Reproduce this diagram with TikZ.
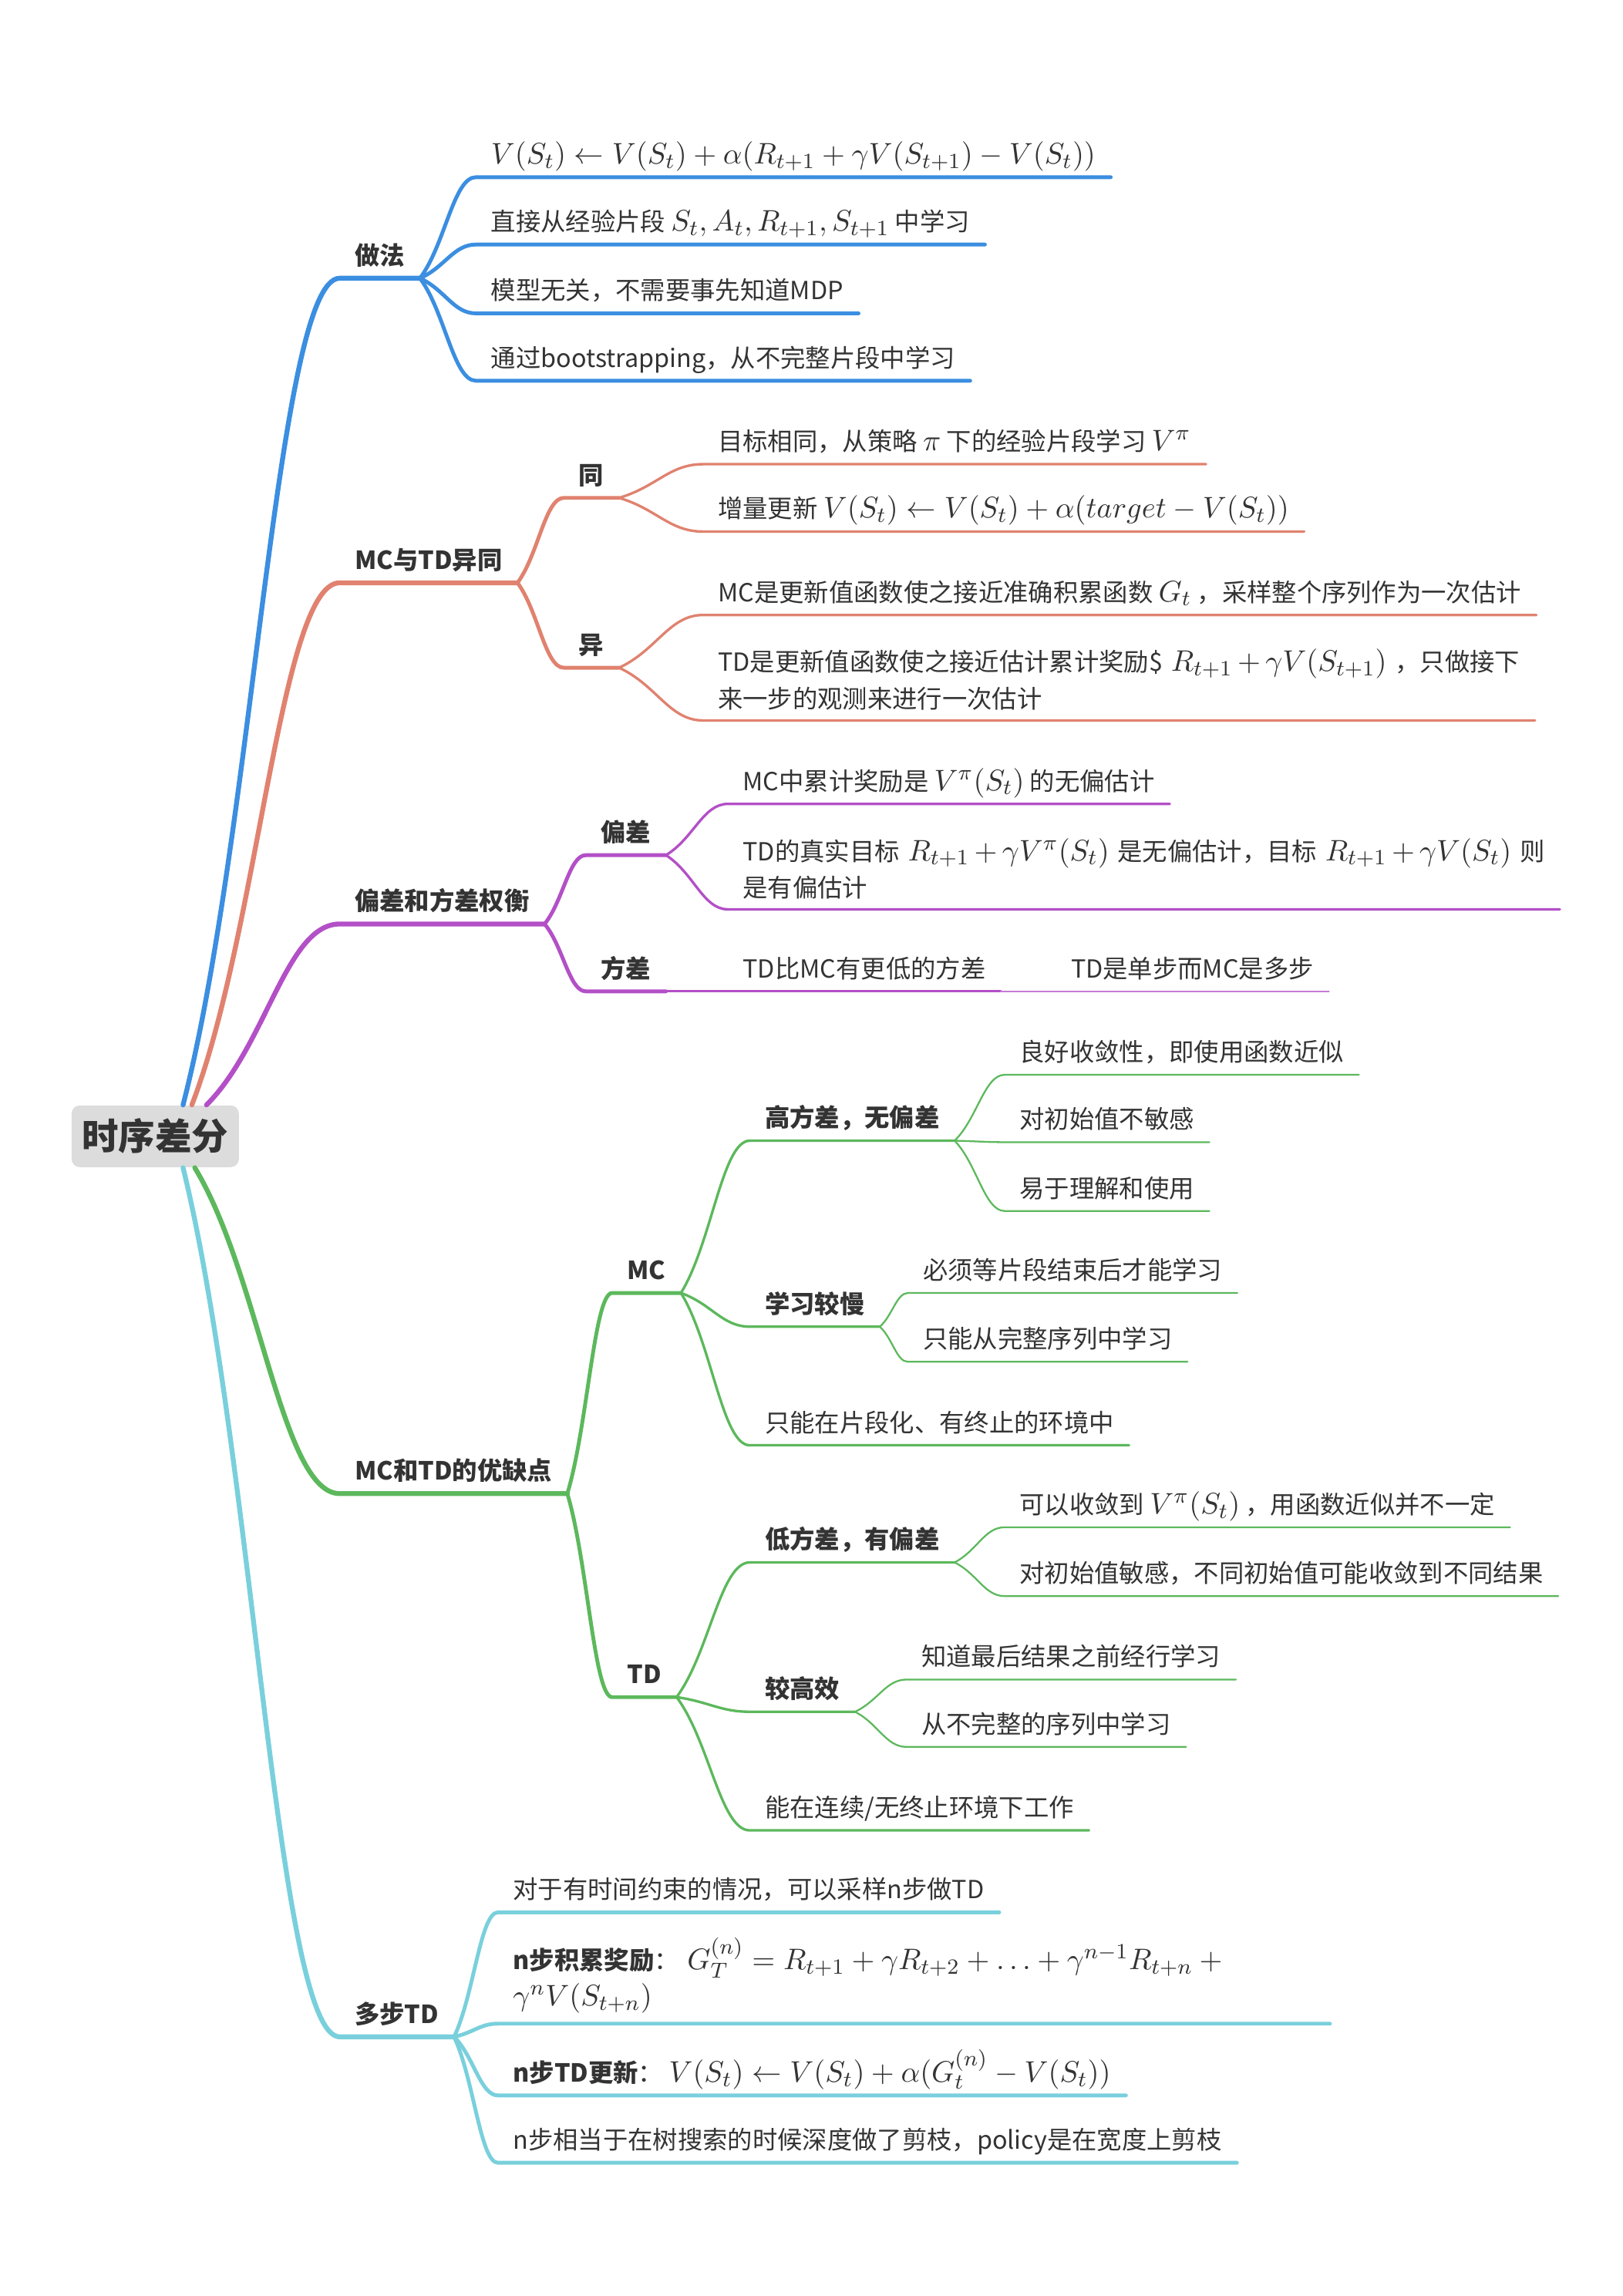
\documentclass[tikz,border=0pt]{standalone}
\usepackage{fontspec}
\setmainfont{Noto Sans CJK SC}
\usetikzlibrary{
    calc,       % let ... in for the curved links
    positioning
}

\definecolor{inkgray}{HTML}{333333}
\definecolor{rootgray}{HTML}{DCDCDC}
\definecolor{brblue}{HTML}{3B8EE0}
\definecolor{brsalmon}{HTML}{E0826F}
\definecolor{brpurple}{HTML}{B34FC7}
\definecolor{brgreen}{HTML}{5CB85C}
\definecolor{brcyan}{HTML}{79D0DC}

% formula a bit larger than the text round it
\newcommand{\fm}[1]{{\fontsize{10.8}{13}\selectfont$#1$}}
% curved link from a point to the start of a topic, then its underline
\newcommand{\twig}[3]{%
    \draw[#1] let \p1=(#2), \p2=(#3.south west) in
        (\p1) .. controls ({\x1+0.45*(\x2-\x1)},{\y1+0.33*(\y2-\y1)})
              and ({\x2-0.4*(\x2-\x1)},\y2) .. (\p2) -- (#3.south east);}

\begin{document}
\begin{tikzpicture}[
        x=0.01899cm, y=-0.01899cm,
        line cap=round,
        % Styles
        topic/.style={anchor=south west, inner xsep=0.19cm, inner ysep=3.2pt,
            text depth=1.6pt, text=inkgray, font=\fontsize{9.2}{13.5}\selectfont},
        head/.style={topic, font=\fontsize{9.2}{13.5}\selectfont\bfseries},
        wrapped/.style={topic, text depth={}, inner ysep=3.6pt, text width=10.4cm, align=left},
        rootbox/.style={fill=rootgray, rounded corners=3pt, text=inkgray,
            minimum width=2.17cm, minimum height=0.8cm,
            font=\fontsize{13.5}{16}\selectfont\bfseries},
        lvA/.style={line width=1.8pt},
        lvB/.style={line width=1.4pt},
        lvC/.style={line width=0.95pt},
        lvD/.style={line width=0.65pt}
    ]
    \useasboundingbox (0,0) rectangle (1108,1568);

    % --- Root ---
    \node[rootbox] (root) at (106,776) {时序差分};
    \coordinate (rblue)   at ($(root.north)+(19,0)$);
    \coordinate (rsalmon) at ($(root.north)+(25,0)$);
    \coordinate (rpurple) at ($(root.north)+(35,0)$);
    \coordinate (rgreen)  at ($(root.south)+(27,0)$);
    \coordinate (rcyan)   at ($(root.south)+(19,0)$);

    % --- 1. 做法 ---
    \node[head] (fa) at (232,190) {做法};
    \node[topic] (fa1) at (325,121) {\fm{V(S_t)\leftarrow V(S_t)+\alpha(R_{t+1}+\gamma V(S_{t+1})-V(S_t))}};
    \node[topic] (fa2) at (325,167) {直接从经验片段 \fm{S_t,A_t,R_{t+1},S_{t+1}} 中学习};
    \node[topic] (fa3) at (325,214) {模型无关，不需要事先知道MDP};
    \node[topic] (fa4) at (325,260) {通过bootstrapping，从不完整片段中学习};

    \twig{lvA, brblue}{rblue}{fa}
    \foreach \k in {fa1,fa2,fa3,fa4}
        {\twig{lvB, brblue}{fa.south east}{\k}}

    % --- 2. MC与TD异同 ---
    \node[head] (yt) at (232,398) {MC与TD异同};
    \node[head] (tong) at (385,340) {同};
    \node[head] (yi) at (385,456) {异};
    \node[topic] (tong1) at (480,317) {目标相同，从策略 \fm{\pi} 下的经验片段学习 \fm{V^\pi}};
    \node[topic] (tong2) at (480,363) {增量更新 \fm{V(S_t)\leftarrow V(S_t)+\alpha(target-V(S_t))}};
    \node[topic] (yi1) at (480,420) {MC是更新值函数使之接近准确积累函数 \fm{G_t} ，采样整个序列作为一次估计};
    \node[wrapped] (yi2) at (480,492) {TD是更新值函数使之接近估计累计奖励\$ \fm{R_{t+1}+\gamma V(S_{t+1})} ，只做接下\\来一步的观测来进行一次估计};

    \twig{lvA, brsalmon}{rsalmon}{yt}
    \twig{lvB, brsalmon}{yt.south east}{tong}
    \twig{lvB, brsalmon}{yt.south east}{yi}
    \twig{lvC, brsalmon}{tong.south east}{tong1}
    \twig{lvC, brsalmon}{tong.south east}{tong2}
    \twig{lvC, brsalmon}{yi.south east}{yi1}
    \twig{lvC, brsalmon}{yi.south east}{yi2}

    % --- 3. 偏差和方差权衡 ---
    \node[head] (pc) at (232,631) {偏差和方差权衡};
    \node[head] (pcb) at (400,584) {偏差};
    \node[head] (pcv) at (400,677) {方差};
    \node[topic] (pcb1) at (497,549) {MC中累计奖励是 \fm{V^\pi(S_t)} 的无偏估计};
    \node[wrapped] (pcb2) at (497,621) {TD的真实目标 \fm{R_{t+1}+\gamma V^\pi(S_t)} 是无偏估计，目标 \fm{R_{t+1}+\gamma V(S_t)}~则\\是有偏估计};
    \node[topic] (pcv1) at (497,677) {TD比MC有更低的方差};
    \node[topic] (pcv2) at (721,677) {TD是单步而MC是多步};

    \twig{lvA, brpurple}{rpurple}{pc}
    \twig{lvB, brpurple}{pc.south east}{pcb}
    \twig{lvB, brpurple}{pc.south east}{pcv}
    \twig{lvC, brpurple}{pcb.south east}{pcb1}
    \twig{lvC, brpurple}{pcb.south east}{pcb2}
    \twig{lvC, brpurple}{pcv.south east}{pcv1}
    \twig{lvD, brpurple!75}{pcv1.south east}{pcv2}

    % --- 4. MC和TD的优缺点 ---
    \node[head] (yq) at (232,1020) {MC和TD的优缺点};
    \node[head] (mc) at (418,883) {MC};
    \node[head] (td) at (418,1159) {TD};
    % MC side
    \node[head] (mc1) at (512,779) {高方差，无偏差};
    \node[head] (mc2) at (512,906) {学习较慢};
    \node[topic] (mc3) at (512,987) {只能在片段化、有终止的环境中};
    \node[topic] (mc11) at (686,734) {良好收敛性，即使用函数近似};
    \node[topic] (mc12) at (686,780) {对初始值不敏感};
    \node[topic] (mc13) at (686,827) {易于理解和使用};
    \node[topic] (mc21) at (620,883) {必须等片段结束后才能学习};
    \node[topic] (mc22) at (620,930) {只能从完整序列中学习};
    % TD side
    \node[head] (td1) at (512,1067) {低方差，有偏差};
    \node[head] (td2) at (512,1169) {较高效};
    \node[topic] (td3) at (512,1250) {能在连续/无终止环境下工作};
    \node[topic] (td11) at (686,1043) {可以收敛到 \fm{V^\pi(S_t)} ，用函数近似并不一定};
    \node[topic] (td12) at (686,1090) {对初始值敏感，不同初始值可能收敛到不同结果};
    \node[topic] (td21) at (619,1147) {知道最后结果之前经行学习};
    \node[topic] (td22) at (619,1193) {从不完整的序列中学习};

    \twig{lvA, brgreen}{rgreen}{yq}
    \twig{lvB, brgreen}{yq.south east}{mc}
    \twig{lvB, brgreen}{yq.south east}{td}
    \foreach \k in {mc1,mc2,mc3}
        {\twig{lvC, brgreen}{mc.south east}{\k}}
    \foreach \k in {td1,td2,td3}
        {\twig{lvC, brgreen}{td.south east}{\k}}
    \foreach \k in {mc11,mc12,mc13}
        {\twig{lvD, brgreen}{mc1.south east}{\k}}
    \foreach \k in {mc21,mc22}
        {\twig{lvD, brgreen}{mc2.south east}{\k}}
    \foreach \k in {td11,td12}
        {\twig{lvD, brgreen}{td1.south east}{\k}}
    \foreach \k in {td21,td22}
        {\twig{lvD, brgreen}{td2.south east}{\k}}

    % --- 5. 多步TD ---
    \node[head] (db) at (232,1391) {多步TD};
    \node[topic] (db1) at (340,1306) {对于有时间约束的情况，可以采样n步做TD};
    \node[wrapped] (db2) at (340,1382) {{\bfseries n步积累奖励}： \fm{G_T^{(n)}=R_{t+1}+\gamma R_{t+2}+\ldots+\gamma^{n-1}R_{t+n}+{}}\\\fm{\gamma^nV(S_{t+n})}};
    \node[topic] (db3) at (340,1431) {{\bfseries n步TD更新}： \fm{V(S_t)\leftarrow V(S_t)+\alpha(G_t^{(n)}-V(S_t))}};
    \node[topic] (db4) at (340,1477) {n步相当于在树搜索的时候深度做了剪枝，policy是在宽度上剪枝};

    \twig{lvA, brcyan}{rcyan}{db}
    \foreach \k in {db1,db2,db3,db4}
        {\twig{lvB, brcyan}{db.south east}{\k}}

\end{tikzpicture}
\end{document}
